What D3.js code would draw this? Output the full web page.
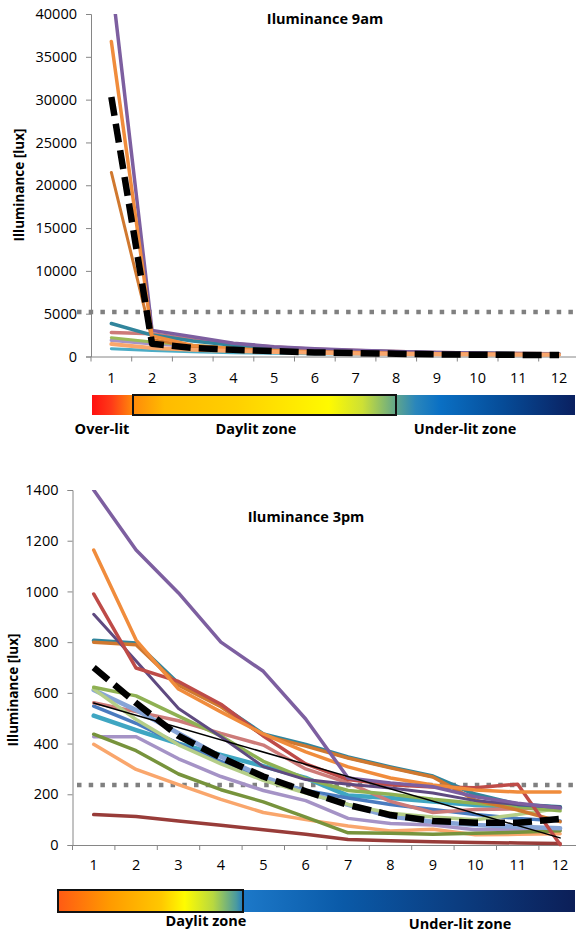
<!DOCTYPE html>
<html>
<head>
<meta charset="utf-8">
<script src="https://cdn.jsdelivr.net/npm/d3@7"></script>
<style>
  body { margin: 0; background: #fff; }
  text { font-family: 'Open Sans', sans-serif; fill: #000; }
</style>
</head>
<body>
<svg id="chart" width="576" height="935"></svg>
<script>
const cats = [1, 2, 3, 4, 5, 6, 7, 8, 9, 10, 11, 12];

// 9am readings (lux)
const amPurple    = [44000, 3050, 2300, 1550, 1150, 900, 720, 580, 470, 400, 340, 300];
const amOrange    = [36800, 2400, 1300, 900, 700, 560, 460, 380, 320, 280, 250, 230];
const amDarkOrng  = [21500, 2000, 1100, 800, 620, 500, 420, 360, 310, 270, 240, 220];
const amTeal      = [3850, 2500, 1800, 1300, 1000, 800, 650, 550, 450, 380, 330, 300];
const amRose      = [2800, 2650, 2000, 1500, 1100, 850, 700, 580, 480, 400, 350, 310];
const amGreen     = [2200, 1700, 1300, 1000, 800, 650, 550, 450, 380, 320, 280, 250];
const amLavender  = [1900, 1500, 1200, 950, 750, 620, 520, 430, 360, 310, 270, 240];
const amPeach     = [1450, 1000, 800, 650, 520, 430, 360, 300, 260, 230, 210, 200];
const amCyan      = [900, 700, 550, 450, 380, 320, 280, 250, 220, 200, 190, 180];
const amMean      = [30300, 1480, 1000, 780, 620, 480, 400, 320, 250, 210, 190, 180];
const amThreshold = 5200;
const amTicks = [0, 5000, 10000, 15000, 20000, 25000, 30000, 35000, 40000];

// 3pm readings (lux)
const pmPurple    = [1400, 1163, 994, 800, 685, 497, 264, 245, 230, 190, 165, 146];
const pmOrange    = [1163, 808, 615, 525, 438, 367, 308, 264, 237, 217, 209, 209];
const pmRed       = [990, 698, 645, 555, 430, 320, 258, 238, 229, 226, 240, 2];
const pmIndigo    = [910, 726, 538, 427, 309, 258, 240, 225, 205, 175, 160, 150];
const pmTealThin  = [806, 796, 636, 551, 437, 396, 346, 307, 271, 200, 160, 150];
const pmBrown     = [800, 790, 630, 545, 432, 390, 343, 304, 268, 177, 138, 92];
const pmGreen     = [622, 588, 508, 430, 330, 262, 215, 200, 180, 165, 150, 135];
const pmLightGrn  = [615, 495, 395, 320, 255, 205, 160, 125, 110, 100, 120, 145];
const pmLightBlue = [611, 532, 441, 348, 269, 209, 158, 112, 92, 79, 72, 66];
const pmRose      = [561, 526, 490, 440, 394, 300, 245, 172, 128, 140, 142, 150];
const pmBlue      = [548, 480, 400, 330, 262, 215, 185, 160, 140, 120, 105, 95];
const pmCyan      = [510, 453, 400, 355, 311, 265, 195, 185, 172, 158, 150, 146];
const pmDarkGreen = [437, 372, 280, 218, 170, 110, 48, 46, 42, 46, 50, 56];
const pmLavender  = [427, 427, 340, 270, 215, 175, 105, 85, 79, 60, 62, 58];
const pmPeach     = [397, 298, 238, 180, 128, 100, 75, 55, 62, 40, 42, 44];
const pmDarkRed   = [120, 112, 95, 78, 60, 42, 22, 17, 13, 10, 8, 6];
const pmMean      = [700, 560, 430, 345, 270, 212, 158, 118, 95, 88, 88, 103];
const pmTrend     = [[1, 560], [12, 28]];
const pmThreshold = 237;
const pmTicks = [0, 200, 400, 600, 800, 1000, 1200, 1400];

const svg = d3.select('#chart');
const defs = svg.append('defs');

function drawChart(cfg) {
  const g = svg.append('g');
  const x = d3.scaleBand().domain(cats).range([cfg.left, cfg.left + 12 * cfg.step]);
  const xc = d => x(d) + x.bandwidth() / 2;
  const y = d3.scaleLinear().domain([0, cfg.max]).range([cfg.bottom, cfg.top]);

  // y axis
  const yAxis = d3.axisLeft(y).tickValues(cfg.ticks).tickFormat(d3.format('d')).tickSize(5).tickPadding(9);
  const ya = g.append('g').attr('transform', `translate(${cfg.left},0)`).call(yAxis);
  ya.select('.domain').attr('stroke', '#868686');
  ya.selectAll('.tick line').attr('stroke', '#868686');
  ya.selectAll('text').attr('font-size', 14.5).attr('font-family', "'Open Sans', sans-serif").attr('fill', '#000');

  // x axis (category ticks between points)
  const xAxis = d3.axisBottom(x).tickSize(0).tickPadding(cfg.labelPad);
  const xa = g.append('g').attr('transform', `translate(0,${cfg.bottom})`).call(xAxis);
  xa.select('.domain').attr('stroke', '#868686');
  xa.selectAll('text').attr('font-size', 14.5).attr('font-family', "'Open Sans', sans-serif").attr('fill', '#000');
  g.append('g').selectAll('line')
    .data(cats)
    .join('line')
    .attr('x1', d => x(d)).attr('x2', d => x(d))
    .attr('y1', cfg.bottom).attr('y2', cfg.bottom + 5)
    .attr('stroke', '#868686');

  // threshold
  g.append('line')
    .attr('x1', 77).attr('x2', 576)
    .attr('y1', y(cfg.threshold)).attr('y2', y(cfg.threshold))
    .attr('stroke', '#808080').attr('stroke-width', 4.5)
    .attr('stroke-dasharray', '4.5 7.2');

  // series
  const clipId = 'clip' + cfg.id;
  defs.append('clipPath').attr('id', clipId)
    .append('rect').attr('x', 0).attr('y', cfg.top).attr('width', 576).attr('height', cfg.bottom - cfg.top + 10);
  const line = d3.line().x(d => xc(d[0])).y(d => y(d[1]));
  const lines = g.append('g').attr('clip-path', `url(#${clipId})`);
  cfg.series.forEach(s => {
    const pts = s.pts || s.values.map((v, i) => [cats[i], v]);
    lines.append('path')
      .attr('d', line(pts))
      .attr('fill', 'none')
      .attr('stroke', s.color)
      .attr('stroke-width', s.width)
      .attr('stroke-linejoin', 'round')
      .attr('stroke-linecap', s.dash ? 'butt' : 'round')
      .attr('stroke-dasharray', s.dash || null);
  });

  // titles
  g.append('text').attr('x', cfg.titleX).attr('y', cfg.titleY)
    .attr('text-anchor', 'middle').attr('font-weight', 'bold').attr('font-size', 14.5)
    .text(cfg.title);
  g.append('text')
    .attr('transform', `translate(${cfg.yLabelX},${cfg.yLabelY}) rotate(-90)`)
    .attr('text-anchor', 'middle').attr('font-weight', 'bold').attr('font-size', 13.5)
    .text('Illuminance [lux]');
}

drawChart({
  id: 'am', left: 91, step: 40.7, top: 14, bottom: 356.5, max: 40000,
  ticks: amTicks, threshold: amThreshold, labelPad: 16,
  title: 'Iluminance 9am', titleX: 325, titleY: 24, yLabelX: 24, yLabelY: 185,
  series: [
    { values: amCyan, color: '#4BACC6', width: 3 },
    { values: amLavender, color: '#A593C6', width: 3.5 },
    { values: amGreen, color: '#9BBB59', width: 3 },
    { values: amRose, color: '#CD7B79', width: 3.5 },
    { values: amTeal, color: '#31859C', width: 3.5 },
    { values: amDarkOrng, color: '#D0782F', width: 3 },
    { values: amPurple, color: '#7D5FA0', width: 3.5 },
    { values: amOrange, color: '#F08C3C', width: 3.5 },
    { values: amPeach, color: '#F9A66C', width: 4 },
    { values: amMean, color: '#000', width: 6.5, dash: '19 8' }
  ]
});

drawChart({
  id: 'pm', left: 72.5, step: 42.4, top: 490, bottom: 845, max: 1400,
  ticks: pmTicks, threshold: pmThreshold, labelPad: 15,
  title: 'Iluminance 3pm', titleX: 306, titleY: 522, yLabelX: 18, yLabelY: 690,
  series: [
    { values: pmDarkRed, color: '#983C39', width: 3.5 },
    { values: pmPeach, color: '#F9A66C', width: 3.5 },
    { values: pmLavender, color: '#A593C6', width: 3.5 },
    { values: pmDarkGreen, color: '#77933C', width: 3.5 },
    { values: pmCyan, color: '#3FA6C2', width: 4.5 },
    { values: pmBlue, color: '#4A7BBF', width: 3.5 },
    { values: pmRose, color: '#CD7B79', width: 3.5 },
    { values: pmLightBlue, color: '#86A4D6', width: 4.5 },
    { values: pmLightGrn, color: '#B5CE88', width: 3.5 },
    { values: pmGreen, color: '#8FB153', width: 3.5 },
    { values: pmTealThin, color: '#31859C', width: 4 },
    { values: pmBrown, color: '#D0782F', width: 3.5 },
    { values: pmIndigo, color: '#5F4A80', width: 3 },
    { values: pmRed, color: '#BE4B48', width: 3.5 },
    { values: pmOrange, color: '#F08C3C', width: 3.5 },
    { values: pmPurple, color: '#7D5FA0', width: 3.5 },
    { pts: pmTrend, color: '#000', width: 1.5 },
    { values: pmMean, color: '#000', width: 6.5, dash: '19 8' }
  ]
});

// colour bars
function colourBar(id, x0, x1, y0, h, stops, boxX0, boxX1) {
  const grad = defs.append('linearGradient').attr('id', id).attr('x1', '0%').attr('x2', '100%');
  grad.selectAll('stop').data(stops).join('stop')
    .attr('offset', d => d[0]).attr('stop-color', d => d[1]);
  svg.append('rect').attr('x', x0).attr('y', y0).attr('width', x1 - x0).attr('height', h)
    .attr('fill', `url(#${id})`);
  svg.append('rect').attr('x', boxX0).attr('y', y0).attr('width', boxX1 - boxX0).attr('height', h)
    .attr('fill', 'none').attr('stroke', '#111').attr('stroke-width', 2);
}

colourBar('gradAm', 92, 575, 395, 20, [
  [0, '#ff1010'], [0.04, '#ff3a18'], [0.085, '#ff8a0a'], [0.15, '#ffbb00'], [0.3, '#ffd000'],
  [0.49, '#fffa00'], [0.56, '#cde035'], [0.63, '#5fa58d'], [0.67, '#2a86bb'], [0.72, '#0a70c4'],
  [0.85, '#064c98'], [1, '#0a2060']
], 133, 396);

colourBar('gradPm', 58, 575, 890, 22, [
  [0, '#ff5a14'], [0.1, '#ff9a00'], [0.2, '#ffc800'], [0.245, '#fffc00'], [0.3, '#b8d840'],
  [0.345, '#4a9aa0'], [0.36, '#1c78c8'], [0.55, '#0a5aa8'], [1, '#0c1f58']
], 58, 243);

const zoneLabels = [
  { text: 'Over-lit', x: 102, y: 434 },
  { text: 'Daylit zone', x: 206, y: 926 },
  { text: 'Daylit zone', x: 256, y: 434 },
  { text: 'Under-lit zone', x: 465, y: 434 },
  { text: 'Under-lit zone', x: 460, y: 929 }
];
svg.append('g').selectAll('text').data(zoneLabels).join('text')
  .attr('x', d => d.x).attr('y', d => d.y)
  .attr('text-anchor', 'middle').attr('font-weight', 'bold').attr('font-size', 14.5)
  .attr('fill', '#222')
  .text(d => d.text);
</script>
</body>
</html>
